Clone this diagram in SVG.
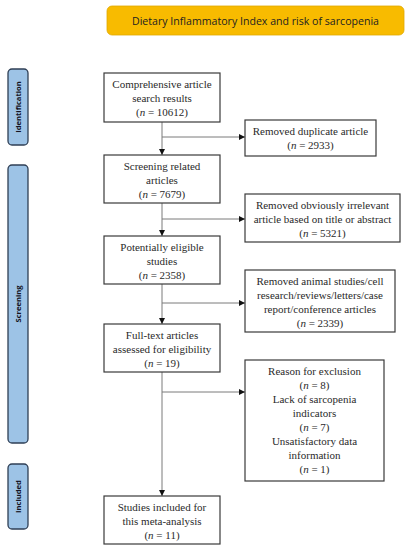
<svg xmlns="http://www.w3.org/2000/svg" width="408" height="550" viewBox="0 0 408 550">
<style>
.box{fill:#fff;stroke:#3a3a3a;stroke-width:1.2}
.t{font-family:"Liberation Serif","Times New Roman",serif;font-size:11px;fill:#2a2a2a;text-anchor:middle}
.side{fill:#9dc3e6;stroke:#2f3f55;stroke-width:1.3}
.st{font-family:"Open Sans","Liberation Sans",sans-serif;font-size:7.6px;font-weight:bold;fill:#141424;text-anchor:middle}
.c{stroke:#7a7a7a;stroke-width:1;fill:none}
</style>
<defs>
<marker id="ah" markerWidth="8" markerHeight="8" refX="6" refY="3" orient="auto" markerUnits="userSpaceOnUse">
<path d="M0,0 L6,3 L0,6 Z" fill="#111"/>
</marker>
</defs>
<rect width="408" height="550" fill="#fff"/>
<g id="title">
<rect x="107" y="6" width="297" height="29" rx="5" fill="#f8bb00" stroke="#e0a800" stroke-width="0.8"/>
<text x="255.5" y="25" font-family="'Open Sans','Liberation Sans',sans-serif" font-size="10.6" fill="#222" text-anchor="middle">Dietary Inflammatory Index and risk of sarcopenia</text>
</g>
<g id="phase-identification">
<rect class="side" x="8" y="69" width="20" height="76" rx="4"/>
<text class="st" transform="translate(20.7,107) rotate(-90)">Identification</text>
</g>
<g id="phase-screening">
<rect class="side" x="8" y="165" width="20" height="278" rx="4"/>
<text class="st" transform="translate(20.7,304) rotate(-90)">Screening</text>
</g>
<g id="phase-included">
<rect class="side" x="8" y="464" width="20" height="65" rx="4"/>
<text class="st" transform="translate(20.7,496.5) rotate(-90)">Included</text>
</g>
<g id="connectors">
<line class="c" x1="162" y1="122" x2="162" y2="155" marker-end="url(#ah)"/>
<line class="c" x1="162" y1="137" x2="245" y2="137" marker-end="url(#ah)"/>
<line class="c" x1="162" y1="203" x2="162" y2="236" marker-end="url(#ah)"/>
<line class="c" x1="162" y1="219" x2="245" y2="219" marker-end="url(#ah)"/>
<line class="c" x1="162" y1="284" x2="162" y2="324" marker-end="url(#ah)"/>
<line class="c" x1="162" y1="303" x2="245" y2="303" marker-end="url(#ah)"/>
<line class="c" x1="162" y1="372" x2="162" y2="496" marker-end="url(#ah)"/>
<line class="c" x1="162" y1="392" x2="245" y2="392" marker-end="url(#ah)"/>
</g>
<g id="n1">
<rect class="box" x="104" y="73" width="116" height="49"/>
<text class="t" x="162" y="88">Comprehensive article</text>
<text class="t" x="162" y="102">search results</text>
<text class="t" x="162" y="116">(<tspan font-style="italic">n</tspan> = 10612)</text>
</g>
<g id="n2">
<rect class="box" x="245" y="120" width="131" height="36"/>
<text class="t" x="310.5" y="135">Removed duplicate article</text>
<text class="t" x="310.5" y="149">(<tspan font-style="italic">n</tspan> = 2933)</text>
</g>
<g id="n3">
<rect class="box" x="104" y="155" width="116" height="48"/>
<text class="t" x="162" y="170">Screening related</text>
<text class="t" x="162" y="184">articles</text>
<text class="t" x="162" y="198">(<tspan font-style="italic">n</tspan> = 7679)</text>
</g>
<g id="n4">
<rect class="box" x="245" y="194" width="155" height="48"/>
<text class="t" x="322.5" y="209">Removed obviously irrelevant</text>
<text class="t" x="322.5" y="223">article based on title or abstract</text>
<text class="t" x="322.5" y="237">(<tspan font-style="italic">n</tspan> = 5321)</text>
</g>
<g id="n5">
<rect class="box" x="104" y="236" width="116" height="48"/>
<text class="t" x="162" y="251">Potentially eligible</text>
<text class="t" x="162" y="265">studies</text>
<text class="t" x="162" y="279">(<tspan font-style="italic">n</tspan> = 2358)</text>
</g>
<g id="n6">
<rect class="box" x="245" y="270" width="150" height="62"/>
<text class="t" x="320" y="285">Removed animal studies/cell</text>
<text class="t" x="320" y="299">research/reviews/letters/case</text>
<text class="t" x="320" y="313">report/conference articles</text>
<text class="t" x="320" y="327">(<tspan font-style="italic">n</tspan> = 2339)</text>
</g>
<g id="n7">
<rect class="box" x="104" y="324" width="116" height="48"/>
<text class="t" x="162" y="339">Full-text articles</text>
<text class="t" x="162" y="353">assessed for eligibility</text>
<text class="t" x="162" y="367">(<tspan font-style="italic">n</tspan> = 19)</text>
</g>
<g id="n8">
<rect class="box" x="245" y="360" width="139" height="121"/>
<text class="t" x="314.5" y="375">Reason for exclusion</text>
<text class="t" x="314.5" y="389">(<tspan font-style="italic">n</tspan> = 8)</text>
<text class="t" x="314.5" y="403">Lack of sarcopenia</text>
<text class="t" x="314.5" y="417">indicators</text>
<text class="t" x="314.5" y="431">(<tspan font-style="italic">n</tspan> = 7)</text>
<text class="t" x="314.5" y="445">Unsatisfactory data</text>
<text class="t" x="314.5" y="459">information</text>
<text class="t" x="314.5" y="473">(<tspan font-style="italic">n</tspan> = 1)</text>
</g>
<g id="n9">
<rect class="box" x="104" y="496" width="116" height="48"/>
<text class="t" x="162" y="511">Studies included for</text>
<text class="t" x="162" y="525">this meta-analysis</text>
<text class="t" x="162" y="539">(<tspan font-style="italic">n</tspan> = 11)</text>
</g>
</svg>
